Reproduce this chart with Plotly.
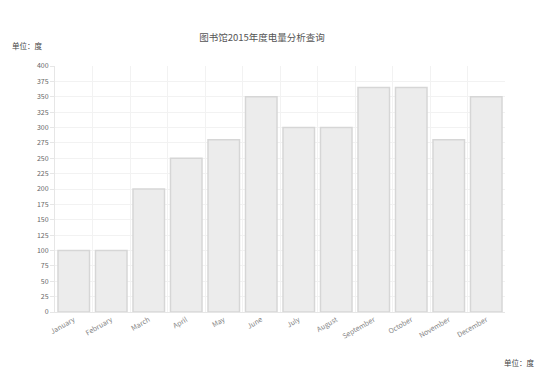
import plotly.graph_objects as go

months = ["January", "February", "March", "April", "May", "June", "July",
          "August", "September", "October", "November", "December"]
usage = [100, 100, 200, 250, 280, 350, 300, 300, 365, 365, 280, 350]
y_ticks = list(range(0, 401, 25))

title_text = "图书馆2015年度电量分析查询"
unit_left = "单位：度"
unit_right = "单位：度"

fig = go.Figure()
fig.add_trace(go.Bar(
    x=months, y=usage,
    marker=dict(color="#ececec", line=dict(color="#d6d6d6", width=1.5)),
))

fig.update_layout(
    width=538, height=367,
    margin=dict(l=55, r=33, t=66, b=55),
    paper_bgcolor="white", plot_bgcolor="white",
    bargap=0.16,
    showlegend=False,
    font=dict(family="Noto Sans CJK SC, Liberation Sans, sans-serif", color="#777777", size=7),
    title=dict(text=title_text, x=0.487, xanchor="center", y=0.897, yanchor="middle",
               font=dict(size=9.5, color="#555555")),
    xaxis=dict(
        type="category", tickson="boundaries", showgrid=True, gridcolor="#f2f2f2",
        tickangle=-30, ticks="", showline=True, linecolor="#e6e6e6",
        tickfont=dict(size=7, color="#888888"), range=[-0.5, 11.5],
    ),
    yaxis=dict(
        range=[0, 400], tickvals=y_ticks, showgrid=True, gridcolor="#f2f2f2",
        zeroline=False, showline=True, linecolor="#e6e6e6", ticks="outside",
        ticklen=4, tickcolor="#e6e6e6", tickfont=dict(size=7, color="#666666"),
    ),
    annotations=[
        dict(text=unit_left, xref="paper", yref="paper", x=-0.1, y=1.085,
             xanchor="left", yanchor="middle", showarrow=False,
             font=dict(size=7.5, color="#444444")),
        dict(text=unit_right, xref="paper", yref="paper", x=1.071, y=-0.205,
             xanchor="right", yanchor="middle", showarrow=False,
             font=dict(size=7.5, color="#444444")),
    ],
)

fig.write_html("out.html")
